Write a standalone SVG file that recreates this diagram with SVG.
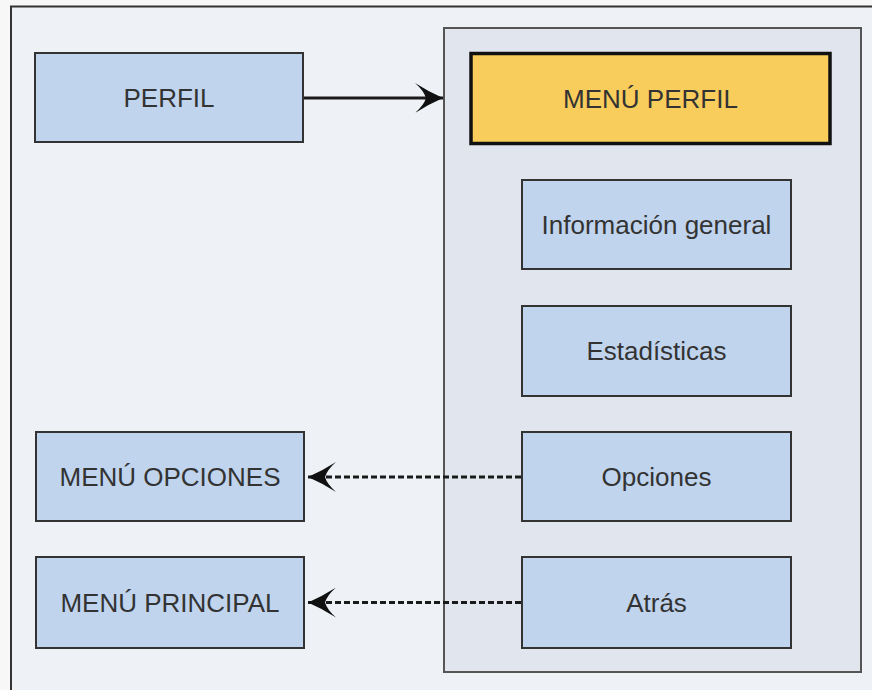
<svg xmlns="http://www.w3.org/2000/svg" width="872" height="690" viewBox="0 0 872 690">
  <defs>
    <style>
      .box { fill: #c0d4ee; stroke: #333333; stroke-width: 2; }
      .lbl { font-family: "Liberation Sans", Arial, sans-serif; font-size: 26px; fill: #333333; text-anchor: middle; }
      .conn { fill: none; stroke: #1a1a1a; stroke-width: 3; }
      .dash { stroke-dasharray: 6 3; }
    </style>
    <marker id="arr" markerUnits="userSpaceOnUse" viewBox="0 0 28 30" refX="28" refY="15" markerWidth="28" markerHeight="30" orient="auto">
      <path d="M0,0 Q14,9 28,15 Q14,21 0,30 Q9,22 11,15 Q9,8 0,0 Z" fill="#111111"/>
    </marker>
  </defs>
  <rect x="0" y="0" width="872" height="690" fill="#f7f7f7"/>
  <g id="frame">
    <rect x="11" y="6.5" width="900" height="720" fill="#eef2f6" stroke="#333333" stroke-width="2"/>
  </g>
  <g id="container">
    <rect x="444" y="28" width="417" height="644" fill="#e1e6ee" stroke="#555555" stroke-width="2"/>
  </g>
  <g id="connectors">
    <line class="conn" x1="303" y1="98" x2="443" y2="98" marker-end="url(#arr)"/>
    <line class="conn dash" x1="521" y1="477" x2="308" y2="477" marker-end="url(#arr)"/>
    <line class="conn dash" x1="521" y1="602.5" x2="308" y2="602.5" marker-end="url(#arr)"/>
  </g>
  <g id="perfil">
    <rect class="box" x="35" y="53" width="268" height="89"/>
    <text class="lbl" x="169" y="107">PERFIL</text>
  </g>
  <g id="menu-perfil">
    <rect x="471" y="53.5" width="359" height="90" fill="#f9cd5c" stroke="#111111" stroke-width="3.5"/>
    <text class="lbl" x="650.5" y="108">MENÚ PERFIL</text>
  </g>
  <g id="informacion-general">
    <rect class="box" x="522" y="180" width="269" height="89"/>
    <text class="lbl" x="656.5" y="234">Información general</text>
  </g>
  <g id="estadisticas">
    <rect class="box" x="522" y="306" width="269" height="90"/>
    <text class="lbl" x="656.5" y="360">Estadísticas</text>
  </g>
  <g id="opciones">
    <rect class="box" x="522" y="432" width="269" height="89"/>
    <text class="lbl" x="656.5" y="486">Opciones</text>
  </g>
  <g id="atras">
    <rect class="box" x="522" y="557" width="269" height="91"/>
    <text class="lbl" x="656.5" y="612">Atrás</text>
  </g>
  <g id="menu-opciones">
    <rect class="box" x="36" y="432" width="268" height="89"/>
    <text class="lbl" x="170" y="486">MENÚ OPCIONES</text>
  </g>
  <g id="menu-principal">
    <rect class="box" x="36" y="557" width="268" height="91"/>
    <text class="lbl" x="170" y="612">MENÚ PRINCIPAL</text>
  </g>
</svg>
